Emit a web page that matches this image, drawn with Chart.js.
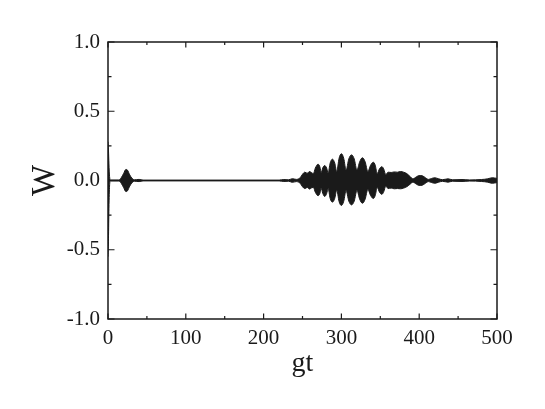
<!DOCTYPE html>
<html>
<head>
<meta charset="utf-8">
<script src="https://cdn.jsdelivr.net/npm/chart.js@4.4.1/dist/chart.umd.min.js"></script>
<style>
  html, body { margin: 0; padding: 0; background: #ffffff; }
  #wrap { width: 545px; height: 409px; }
</style>
</head>
<body>
<div id="wrap"><canvas id="c" width="545" height="409"></canvas></div>
<script>
const gtValues = [0, 0.6, 1.2, 2, 3, 14, 17, 20, 23, 25, 28, 31, 34, 40, 45,
  220, 226, 232, 237, 242, 247, 250, 253, 256, 259, 262,
  264, 266.5, 270, 272.5, 274, 276, 278.5, 281, 283, 285.5, 288.5, 291.5,
  294, 297, 300, 303, 306, 309.5, 313, 316.5, 320, 323.5, 327, 330.5,
  334, 337.5, 341, 343.5, 346, 349, 352, 354.5, 357,
  360, 364, 368, 372, 376, 380, 384, 388, 392, 396, 400, 404, 408, 412,
  416, 420, 425, 430, 437, 443, 455, 465, 480, 488, 494, 500];
// upper envelope of the fast oscillation of W
const wUpper = [0.28, 0.22, 0.12, 0.03, 0.004, 0.004, 0.02, 0.05, 0.08, 0.075, 0.04, 0.015, 0.005, 0.008, 0.003,
  0.003, 0.007, 0.005, 0.013, 0.008, 0.02, 0.045, 0.06, 0.052, 0.065, 0.055,
  0.05, 0.09, 0.118, 0.095, 0.055, 0.09, 0.108, 0.09, 0.055, 0.125, 0.154, 0.125,
  0.065, 0.16, 0.193, 0.16, 0.075, 0.155, 0.185, 0.155, 0.075, 0.135, 0.164, 0.135,
  0.065, 0.11, 0.132, 0.11, 0.05, 0.085, 0.10, 0.082, 0.042,
  0.06, 0.058, 0.062, 0.06, 0.065, 0.06, 0.05, 0.03, 0.012, 0.025, 0.036, 0.034, 0.02, 0.008,
  0.015, 0.02, 0.012, 0.006, 0.012, 0.005, 0.007, 0.004, 0.007, 0.012, 0.02, 0.015];
// lower envelope of the fast oscillation of W
const wLower = [-0.55, -0.42, -0.2, -0.04, -0.004, -0.004, -0.02, -0.05, -0.08, -0.075, -0.04, -0.015, -0.005, -0.008, -0.003,
  -0.003, -0.007, -0.005, -0.013, -0.008, -0.02, -0.045, -0.058, -0.05, -0.062, -0.052,
  -0.05, -0.085, -0.11, -0.09, -0.055, -0.092, -0.115, -0.095, -0.058, -0.128, -0.156, -0.128,
  -0.068, -0.152, -0.18, -0.15, -0.072, -0.148, -0.176, -0.148, -0.072, -0.135, -0.164, -0.135,
  -0.065, -0.108, -0.13, -0.108, -0.05, -0.085, -0.10, -0.08, -0.04,
  -0.058, -0.055, -0.06, -0.058, -0.06, -0.055, -0.045, -0.028, -0.012, -0.025, -0.036, -0.034, -0.02, -0.008,
  -0.015, -0.02, -0.012, -0.006, -0.012, -0.005, -0.007, -0.004, -0.007, -0.012, -0.02, -0.015];

const xMinorTicks = [50, 150, 250, 350, 450];
const yMinorTicks = [-0.75, -0.25, 0.25, 0.75];

const FONT = '"Liberation Serif", "Times New Roman", serif';
const INK = '#1a1a1a';

const upperPts = gtValues.map((g, i) => ({x: g, y: wUpper[i]}));
const lowerPts = gtValues.map((g, i) => ({x: g, y: wLower[i]}));

const framePlugin = {
  id: 'frame',
  afterDatasetsDraw(chart) {
    const {ctx, chartArea: a, scales: {x, y}} = chart;
    ctx.save();
    ctx.strokeStyle = INK;
    ctx.lineWidth = 1.5;
    ctx.strokeRect(a.left, a.top, a.right - a.left, a.bottom - a.top);
    ctx.lineWidth = 1.2;
    ctx.beginPath();
    const majX = 5.5, minX = 3, majY = 6.5, minY = 3.5;
    x.ticks.forEach(t => {
      const px = x.getPixelForValue(t.value);
      ctx.moveTo(px, a.bottom); ctx.lineTo(px, a.bottom - majX);
      ctx.moveTo(px, a.top); ctx.lineTo(px, a.top + majX);
    });
    xMinorTicks.forEach(v => {
      const px = x.getPixelForValue(v);
      ctx.moveTo(px, a.bottom); ctx.lineTo(px, a.bottom - minX);
      ctx.moveTo(px, a.top); ctx.lineTo(px, a.top + minX);
    });
    y.ticks.forEach(t => {
      const py = y.getPixelForValue(t.value);
      ctx.moveTo(a.left, py); ctx.lineTo(a.left + majY, py);
      ctx.moveTo(a.right, py); ctx.lineTo(a.right - majY, py);
    });
    yMinorTicks.forEach(v => {
      const py = y.getPixelForValue(v);
      ctx.moveTo(a.left, py); ctx.lineTo(a.left + minY, py);
      ctx.moveTo(a.right, py); ctx.lineTo(a.right - minY, py);
    });
    ctx.stroke();
    ctx.restore();
  }
};

new Chart(document.getElementById('c'), {
  type: 'line',
  data: {
    datasets: [
      { data: upperPts, borderColor: INK, backgroundColor: INK, borderWidth: 1,
        pointRadius: 0, fill: '+1', cubicInterpolationMode: 'monotone' },
      { data: lowerPts, borderColor: INK, backgroundColor: INK, borderWidth: 1,
        pointRadius: 0, fill: false, cubicInterpolationMode: 'monotone' }
    ]
  },
  options: {
    responsive: false,
    animation: false,
    events: [],
    layout: { padding: { top: 42, right: 48, left: 0, bottom: 0 } },
    plugins: { legend: { display: false }, tooltip: { enabled: false } },
    scales: {
      x: {
        type: 'linear', min: 0, max: 500,
        afterFit(s) { s.height = 90; },
        grid: { display: false, drawTicks: false },
        border: { display: false },
        ticks: { stepSize: 100, color: INK, padding: 7, maxRotation: 0,
                 font: { family: FONT, size: 21 } },
        title: { display: true, text: 'gt', color: INK,
                 font: { family: FONT, size: 28 }, padding: { top: 0, bottom: 29 } }
      },
      y: {
        type: 'linear', min: -1, max: 1,
        afterFit(s) { s.width = 108; },
        grid: { display: false, drawTicks: false },
        border: { display: false },
        ticks: { stepSize: 0.5, color: INK, padding: 8,
                 font: { family: FONT, size: 21 },
                 callback: v => v.toFixed(1) },
        title: { display: true, text: 'W', color: INK,
                 font: { family: FONT, size: 33 }, padding: { top: 26, bottom: 0 } }
      }
    }
  },
  plugins: [framePlugin]
});
</script>
</body>
</html>
